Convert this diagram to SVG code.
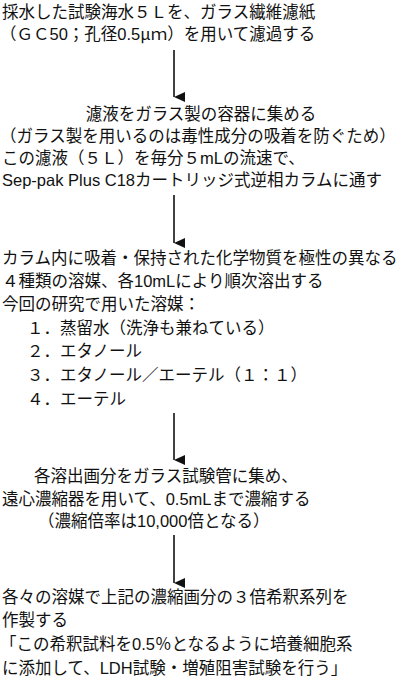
<svg xmlns="http://www.w3.org/2000/svg" width="400" height="682" viewBox="0 0 400 682">
<style>
text{font-family:"Liberation Sans","Noto Sans CJK JP",sans-serif;font-size:16.5px;fill:#111}
.c{text-anchor:middle}
.j{font-family:"Noto Sans CJK JP",sans-serif}
.conn{stroke:#111;stroke-width:1.6;fill:none}
</style>
<defs>
<marker id="ah" markerUnits="userSpaceOnUse" markerWidth="10" markerHeight="11" viewBox="0 0 10 11" refX="5" refY="11" orient="auto">
<path d="M0,0 L10,0 L5,11 Z" fill="#111"/>
</marker>
</defs>
<rect width="400" height="682" fill="#fff"/>
<g id="step1">
<text x="2" y="18">採水した試験海水５Ｌを、ガラス繊維濾紙</text>
<text x="0" y="40">（ＧＣ50；孔径0.5<tspan class="j">μ</tspan>ｍ）を用いて濾過する</text>
</g>
<g id="step2">
<text x="201" y="120" class="c">濾液をガラス製の容器に集める</text>
<text x="0" y="142">（ガラス製を用いるのは毒性成分の吸着を防ぐため）</text>
<text x="2" y="164">この濾液（５Ｌ）を毎分５mLの流速で、</text>
<text x="2" y="186">Sep-pak Plus C18カートリッジ式逆相カラムに通す</text>
</g>
<g id="step3">
<text x="2" y="264">カラム内に吸着・保持された化学物質を極性の異なる</text>
<text x="2" y="287">４種類の溶媒、各10mLにより順次溶出する</text>
<text x="2" y="310">今回の研究で用いた溶媒：</text>
<text x="27" y="334">１．蒸留水（洗浄も兼ねている）</text>
<text x="27" y="357">２．エタノール</text>
<text x="27" y="381">３．エタノール／エーテル（１：１）</text>
<text x="27" y="405">４．エーテル</text>
</g>
<g id="step4">
<text x="34" y="482">各溶出画分をガラス試験管に集め、</text>
<text x="2" y="505">遠心濃縮器を用いて、0.5mLまで濃縮する</text>
<text x="38" y="527">（濃縮倍率は10,000倍となる）</text>
</g>
<g id="step5">
<text x="2" y="603">各々の溶媒で上記の濃縮画分の３倍希釈系列を</text>
<text x="2" y="626">作製する</text>
<text x="0" y="650">「この希釈試料を0.5％となるように培養細胞系</text>
<text x="2" y="674">に添加して、LDH試験・増殖阻害試験を行う」</text>
</g>
<g id="connectors" class="conn">
<line x1="174" y1="50" x2="174" y2="97" marker-end="url(#ah)"/>
<line x1="174" y1="195" x2="174" y2="243" marker-end="url(#ah)"/>
<line x1="174" y1="413" x2="174" y2="460" marker-end="url(#ah)"/>
<line x1="174" y1="535" x2="174" y2="583" marker-end="url(#ah)"/>
</g>
</svg>
